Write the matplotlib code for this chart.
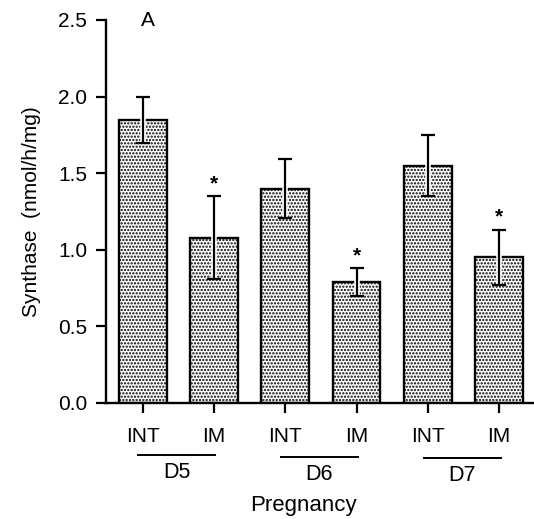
import matplotlib
matplotlib.use("Agg")
import matplotlib.pyplot as plt
import matplotlib.transforms as mtransforms
import matplotlib.patheffects as pe

plt.rcParams['font.family'] = ['Liberation Sans', 'DejaVu Sans']
plt.rcParams['hatch.linewidth'] = 1.1

# Synthase activity by site and day of pregnancy
tissues = ["INT", "IM", "INT", "IM", "INT", "IM"]
days = ["D5", "D6", "D7"]
means = [1.85, 1.08, 1.40, 0.79, 1.55, 0.95]
errors = [0.15, 0.27, 0.19, 0.09, 0.20, 0.18]
significant = [False, True, False, True, False, True]
yticks = [0.0, 0.5, 1.0, 1.5, 2.0, 2.5]

fig = plt.figure(figsize=(5.34, 5.19), dpi=100)
ax = fig.add_axes([106 / 534, 1 - 403 / 519, 1 - 106 / 534, (403 - 20) / 519])

x = list(range(len(means)))
ax.bar(x, means, width=0.67, facecolor="white", edgecolor="black",
       linewidth=1.7, hatch=".....", zorder=2)
eb = ax.errorbar(x, means, yerr=errors, fmt="none", ecolor="black",
                 elinewidth=1.6, capsize=5, capthick=1.6, zorder=3)
for lc in eb.lines[2]:
    lc.set_path_effects([pe.Stroke(linewidth=4, foreground="white"),
                         pe.Normal()])

for xi, m, e, s in zip(x, means, errors, significant):
    if s:
        ax.text(xi, m + e + 0.02, "*", ha="center", va="bottom",
                fontsize=15, fontweight="bold")

ax.set_xlim(-0.515, 5.49)
ax.set_ylim(0, 2.5)
ax.set_yticks(yticks)
ax.set_yticklabels([f"{v:.1f}" for v in yticks], fontsize=15)
ax.set_xticks(x)
ax.set_xticklabels(tissues, fontsize=15)
ax.tick_params(axis="y", direction="out", length=7.5, width=1.6, pad=6)
ax.tick_params(axis="x", direction="out", length=7, width=1.6, pad=10)

for side in ("top", "right"):
    ax.spines[side].set_visible(False)
ax.spines["left"].set_linewidth(1.7)
ax.spines["bottom"].set_linewidth(1.7)

ax.set_ylabel("Synthase  (nmol/h/mg)", fontsize=15, labelpad=12)
ax.text(0.098, 1.0, "A", transform=ax.transAxes, fontsize=15,
        ha="center", va="center")

# day grouping under the tick labels
trans = mtransforms.blended_transform_factory(ax.transData, ax.transAxes)
line_y = [-0.136, -0.141, -0.144]
for k, day in enumerate(days):
    x0, x1 = 2 * k - 0.06, 2 * k + 1.02
    ax.plot([x0, x1], [line_y[k]] * 2, color="black", lw=1.4,
            transform=trans, clip_on=False)
    ax.text((x0 + x1) / 2, line_y[k] - 0.045, day, transform=trans,
            ha="center", va="center", fontsize=15.5)

ax.text(2.25, -0.268, "Pregnancy", transform=trans, ha="center",
        va="center", fontsize=16)

fig.savefig("out.png", dpi=100)
